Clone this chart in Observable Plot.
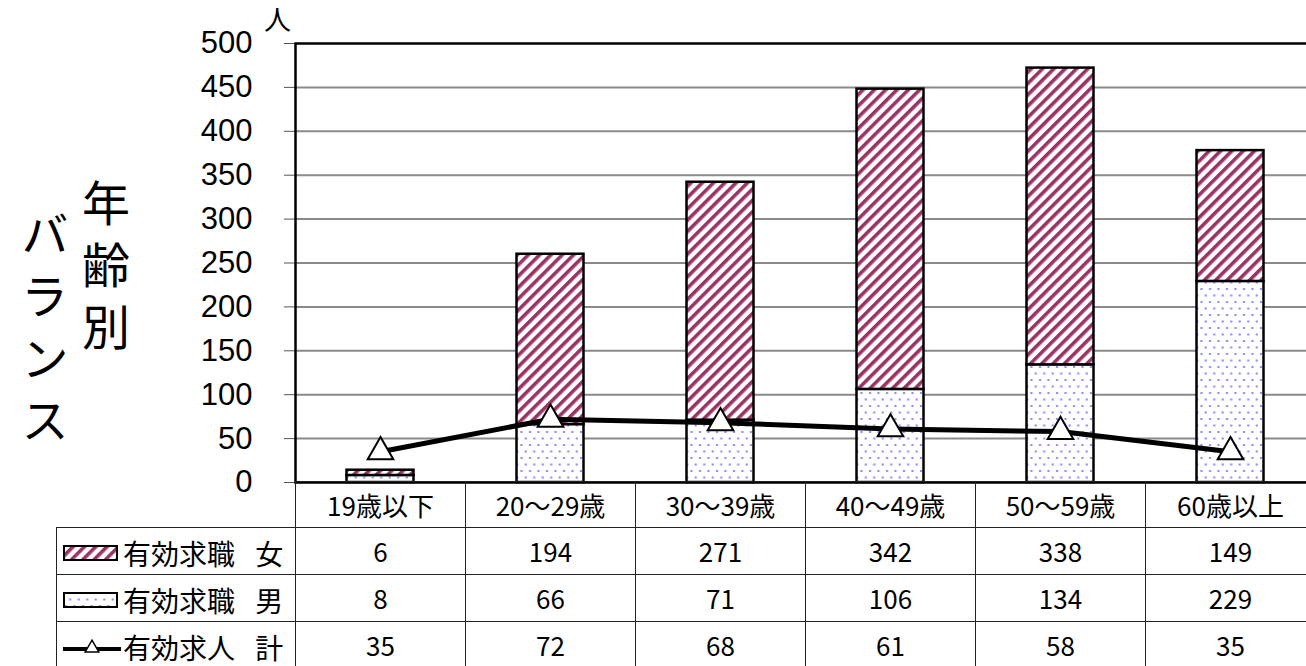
<!DOCTYPE html>
<html><head><meta charset="utf-8">
<script src="https://cdn.jsdelivr.net/npm/d3@7"></script>
<script src="https://cdn.jsdelivr.net/npm/@observablehq/plot@0.6"></script>
<style>
html,body{margin:0;padding:0}
body{width:1306px;height:666px;overflow:hidden;background:#fff;position:relative;font-family:"Noto Sans CJK JP",sans-serif}
#chart{position:absolute;left:0;top:0;width:1315px;height:484px}
#chart svg{position:absolute;left:0;top:0;max-width:none !important;width:1315px !important;height:484px !important}
.vt{position:absolute;writing-mode:vertical-rl;font-size:48px;line-height:1;letter-spacing:14px;color:#000;font-family:"Noto Sans CJK JP",sans-serif}
table.dt{position:absolute;left:56px;top:481px;border-collapse:collapse;table-layout:fixed;width:1259px}
table.dt td{border:1.5px solid #222;padding:0;text-align:center;font-size:26px;color:#000;line-height:1;box-sizing:border-box}
table.dt tr.hd td{height:46px;font-size:26px}
table.dt tr.rw td{height:47px}
table.dt td.lg{text-align:left;font-size:28px;white-space:nowrap}
table.dt td.lg svg{vertical-align:middle;margin-left:6px;margin-right:2px}
</style></head><body>
<svg width="0" height="0" style="position:absolute">
<defs>
<pattern id="hatch" width="8" height="8" patternUnits="userSpaceOnUse" patternTransform="rotate(45)">
<rect width="8" height="8" fill="#fff"/><rect x="0" y="0" width="3.6" height="8" fill="#993366"/>
</pattern>
<pattern id="dots" width="8.5" height="13" patternUnits="userSpaceOnUse">
<rect width="8.5" height="13" fill="#fff"/><rect x="2" y="2" width="2" height="2" fill="#8484ff"/><rect x="6.25" y="8.5" width="2" height="2" fill="#8484ff"/>
</pattern>
</defs></svg>
<div id="chart"></div>
<div class="vt" style="left:82px;top:179px">年齢別</div>
<div class="vt" style="left:21px;top:210px">バランス</div>
<script>
const categories = ["19歳以下","20～29歳","30～39歳","40～49歳","50～59歳","60歳以上"];
const female = [6,194,271,342,338,149];
const male = [8,66,71,106,134,229];
const openings = [35,72,68,61,58,35];
const seriesNames = ["有効求職 女","有効求職 男","有効求人 計"];
const yTicks = [0,50,100,150,200,250,300,350,400,450,500];
const unitLabel = "人";

const stacked = [];
categories.forEach((c,i)=>{
  stacked.push({cat:c, series:"男", v:male[i]});
  stacked.push({cat:c, series:"女", v:female[i]});
});
const lineData = categories.map((c,i)=>({cat:c, v:openings[i]}));

const chart = Plot.plot({
  width:1315, height:484,
  marginLeft:295, marginRight:0, marginTop:43, marginBottom:2,
  style:{fontFamily:"'Liberation Sans', Arial, sans-serif", background:"transparent", overflow:"visible", maxWidth:"none"},
  x:{domain:categories, padding:0, axis:null},
  y:{domain:[0,500]},
  color:{domain:["男","女"], range:["url(#dots)","url(#hatch)"]},
  marks:[
    Plot.gridY(yTicks.slice(1,-1), {stroke:"#8a8a8a", strokeWidth:2, strokeOpacity:1}),
    Plot.axisY(yTicks, {tickSize:11, tickPadding:32, fontSize:31, stroke:"#555", label:null, color:"#000"}),
    Plot.barY(stacked, {x:"cat", y:"v", fill:"series", stroke:"#000", strokeWidth:2.5, insetLeft:51.5, insetRight:51.5}),
    Plot.line(lineData, {x:"cat", y:"v", stroke:"#000", strokeWidth:5}),
    Plot.dot(lineData, {x:"cat", y:"v", symbol:"triangle", r:9.5, fill:"#fff", stroke:"#000", strokeWidth:2}),
    Plot.frame({stroke:"#000", strokeWidth:2.5}),
    Plot.text([unitLabel], {frameAnchor:"top-left", textAnchor:"middle", lineAnchor:"middle", dx:-18, dy:-22, fontSize:27, fill:"#000", fontFamily:"'Noto Sans CJK JP', sans-serif"})
  ]
});
document.getElementById("chart").appendChild(chart);

// data table below the chart
const ns = "http://www.w3.org/2000/svg";
function swatch(kind){
  const s = document.createElementNS(ns,"svg");
  s.setAttribute("width","58"); s.setAttribute("height","20");
  if(kind==="line"){
    const l = document.createElementNS(ns,"line");
    l.setAttribute("x1","0"); l.setAttribute("x2","58"); l.setAttribute("y1","12"); l.setAttribute("y2","12");
    l.setAttribute("stroke","#000"); l.setAttribute("stroke-width","4");
    s.appendChild(l);
    const p = document.createElementNS(ns,"path");
    p.setAttribute("d", d3.symbol(d3.symbolTriangle, 80)());
    p.setAttribute("transform","translate(29,11)");
    p.setAttribute("fill","#fff"); p.setAttribute("stroke","#000"); p.setAttribute("stroke-width","1.5");
    s.appendChild(p);
  } else {
    const r = document.createElementNS(ns,"rect");
    r.setAttribute("x","1"); r.setAttribute("y","3"); r.setAttribute("width","53"); r.setAttribute("height","14");
    r.setAttribute("fill", kind==="hatch" ? "url(#hatch)" : "url(#dots)");
    r.setAttribute("stroke","#000"); r.setAttribute("stroke-width","2");
    s.appendChild(r);
  }
  return s;
}
const table = document.createElement("table");
table.className = "dt";
const cg = document.createElement("colgroup");
[239,170,170,170,170,170,170].forEach(w=>{const c=document.createElement("col"); c.style.width=w+"px"; cg.appendChild(c);});
table.appendChild(cg);
const hd = document.createElement("tr"); hd.className="hd";
const blank = document.createElement("td"); blank.style.borderTop="none"; blank.style.borderLeft="none";
hd.appendChild(blank);
categories.forEach(c=>{const td=document.createElement("td"); td.textContent=c; hd.appendChild(td);});
table.appendChild(hd);
const rows = [[seriesNames[0],"hatch",female],[seriesNames[1],"dots",male],[seriesNames[2],"line",openings]];
rows.forEach(([name,kind,vals])=>{
  const tr = document.createElement("tr"); tr.className="rw";
  const lg = document.createElement("td"); lg.className="lg";
  lg.appendChild(swatch(kind));
  const sp = document.createElement("span"); sp.textContent=name; sp.style.wordSpacing="14px"; sp.style.verticalAlign="middle";
  lg.appendChild(sp);
  tr.appendChild(lg);
  vals.forEach(v=>{const td=document.createElement("td"); td.textContent=v; tr.appendChild(td);});
  table.appendChild(tr);
});
document.body.appendChild(table);
</script>
</body></html>
